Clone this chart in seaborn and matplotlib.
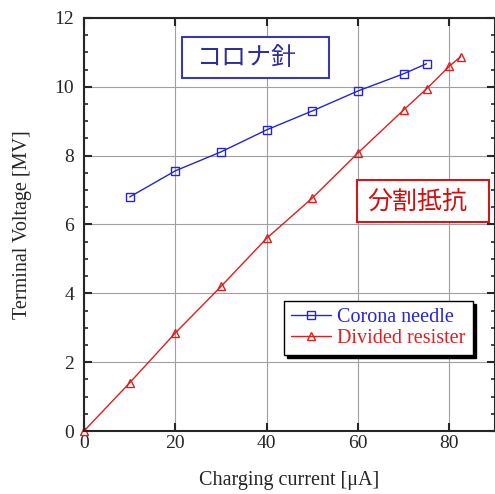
import matplotlib.pyplot as plt
import pandas as pd
import seaborn as sns
from matplotlib.patches import Rectangle

# charging current [uA] vs terminal voltage [MV]
corona_x = [10, 20, 30, 40, 50, 60, 70, 75]
corona_y = [6.8, 7.56, 8.11, 8.75, 9.3, 9.88, 10.38, 10.67]
divided_x = [0, 10, 20, 30, 40, 50, 60, 70, 75, 80, 82.5]
divided_y = [0, 1.4, 2.85, 4.2, 5.6, 6.77, 8.08, 9.33, 9.94, 10.6, 10.88]

x_ticks = [0, 20, 40, 60, 80]
y_ticks = [0, 2, 4, 6, 8, 10, 12]

sns.set_style("ticks")
plt.rcParams["font.family"] = ["Liberation Serif", "Noto Sans CJK JP"]
plt.rcParams["xtick.direction"] = "in"
plt.rcParams["ytick.direction"] = "in"

blue = "#2424d8"
red = "#e01e1e"

fig = plt.figure(figsize=(4.95, 4.94), dpi=100)
ax = fig.add_axes([0.1697, 0.1275, 0.8303, 0.8361])

df_c = pd.DataFrame({"x": corona_x, "y": corona_y})
df_d = pd.DataFrame({"x": divided_x, "y": divided_y})

sns.lineplot(data=df_c, x="x", y="y", ax=ax, color=blue, lw=1,
             marker="s", markersize=6, markerfacecolor="none",
             markeredgecolor=blue, markeredgewidth=1, label="Corona needle")
sns.lineplot(data=df_d, x="x", y="y", ax=ax, color=red, lw=1,
             marker="^", markersize=6, markerfacecolor="none",
             markeredgecolor=red, markeredgewidth=1, label="Divided resister",
             clip_on=False)

ax.set_xlim(0, 90)
ax.set_ylim(0, 12)
ax.set_xticks(x_ticks)
ax.set_yticks(y_ticks)
ax.set_yticks([v / 2 for v in range(25)], minor=True)
ax.grid(True, which="major", color="#a0a0a0", lw=0.8)
ax.tick_params(which="major", length=6, width=1.5, top=True, right=True,
               labelsize=14)
ax.tick_params(axis="x", pad=3)
ax.tick_params(axis="y", pad=7)
ax.tick_params(which="minor", length=3, width=1.2, right=True, left=True)
for s in ax.spines.values():
    s.set_linewidth(1.5)

ax.set_xlabel("Charging current [\u03bcA]", fontsize=14.5, va="center")
ax.set_ylabel("Terminal Voltage [MV]", fontsize=14.5, va="center")
ax.xaxis.set_label_coords(0.5, -0.119)
ax.yaxis.set_label_coords(-0.15, 0.5)

# label boxes
ax.add_patch(Rectangle((0.238, 0.855), 0.358, 0.099, transform=ax.transAxes,
                       fc="white", ec="#3a3aa8", lw=1.5, zorder=5))
ax.text(0.272, 0.903, "コロナ針", transform=ax.transAxes, fontsize=18,
        color="#2e2e9c", va="center", ha="left", zorder=6,
        family=["Noto Sans CJK JP"])
ax.add_patch(Rectangle((0.664, 0.506), 0.321, 0.102, transform=ax.transAxes,
                       fc="white", ec="#d01818", lw=1.5, zorder=5))
ax.text(0.690, 0.554, "分割抵抗", transform=ax.transAxes, fontsize=18,
        color="#d01010", va="center", ha="left", zorder=6,
        family=["Noto Sans CJK JP"])

leg = ax.legend(loc="lower right", bbox_to_anchor=(0.946, 0.184),
                borderaxespad=0, fontsize=14.5, frameon=True, fancybox=False,
                shadow={"color": "black", "alpha": 1}, handlelength=2.0,
                borderpad=0.35, labelspacing=0.08, handletextpad=0.3)
leg.get_frame().set_edgecolor("black")
leg.get_frame().set_linewidth(1)
leg.set_zorder(7)
for t, c in zip(leg.get_texts(), [blue, red]):
    t.set_color(c)

fig.savefig("out.png", dpi=100)
